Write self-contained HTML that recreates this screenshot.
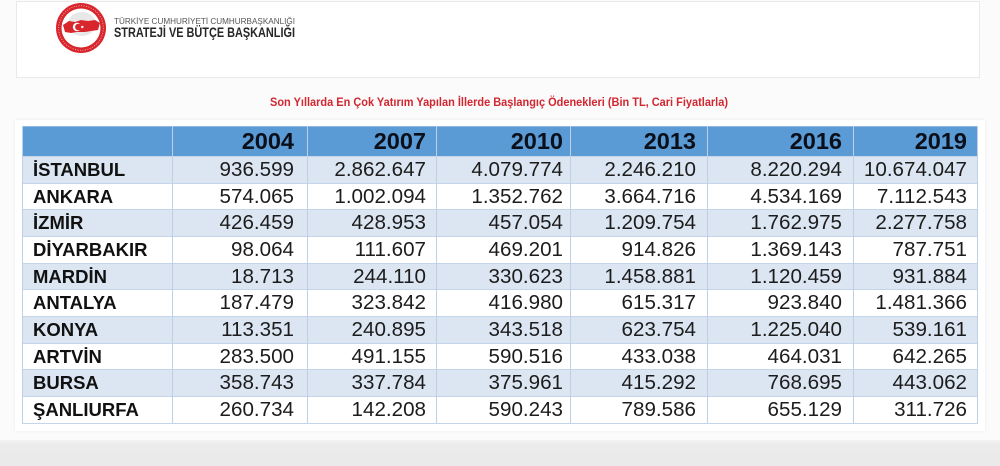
<!DOCTYPE html>
<html><head><meta charset="utf-8">
<style>
html,body{margin:0;padding:0;width:1000px;height:466px;overflow:hidden;background:#fbfbfb;font-family:"Liberation Sans",Arial,sans-serif;}
.abs{position:absolute;}
#topcard{left:16px;top:1px;width:964px;height:77px;background:#fff;border:1px solid #e9e9e9;box-sizing:border-box;}
#tblcard{left:15px;top:120px;width:970px;height:311px;background:#fff;box-shadow:0 0 3px rgba(0,0,0,0.08);}
#bottom{left:0;top:440px;width:1000px;height:26px;background:linear-gradient(#f3f3f3,#ebebeb 5px,#eaeaea);}
.hdr{left:22px;top:126px;width:956px;height:30px;background:#5b9bd5;}
.row{left:22px;width:956px;height:27px;}
.alt{background:#dce6f2;}
.vl{width:1px;top:126px;height:297px;background:#bdd0e6;}
.hl{left:22px;width:956px;height:1px;background:#c4d5ea;}
.name{left:33px;font-weight:bold;font-size:18.5px;color:#111;line-height:27px;white-space:nowrap;}
.num{font-size:20.6px;color:#1c1c1c;line-height:27px;text-align:right;white-space:nowrap;}
.yr{font-weight:bold;font-size:23.5px;color:#0a0f1a;line-height:30px;text-align:right;top:126px;}
</style></head><body>
<div class="abs" id="topcard"></div>
<svg class="abs" style="left:55px;top:2px" width="52" height="52" viewBox="0 0 52 52">
 <circle cx="26" cy="26" r="25" fill="#d8262c"/>
 <circle cx="26" cy="26" r="19.5" fill="#fff"/>
 <circle cx="26" cy="26" r="22.3" fill="none" stroke="#fff" stroke-width="0.7" stroke-dasharray="1 1.5" opacity="0.8"/>
 <ellipse cx="27" cy="22" rx="14" ry="12" fill="#e8e8e8"/>
 <path d="M8 23 L14 19 L20 20 L26 18 L33 19 L40 18 L45 21 L43 28 L36 29 L30 30 L22 30 L16 31 L10 30 Z" fill="#d8262c"/>
 <circle cx="22" cy="25" r="4.2" fill="#fff"/>
 <circle cx="23.4" cy="25" r="3.3" fill="#d8262c"/>
 <circle cx="27.3" cy="25" r="1.2" fill="#fff"/>
</svg>
<svg class="abs" style="left:0;top:0" width="400" height="45">
 <text x="114" y="24" font-family="Liberation Sans, Arial, sans-serif" font-size="8.5" fill="#555" textLength="181" lengthAdjust="spacingAndGlyphs">TÜRKİYE CUMHURİYETİ CUMHURBAŞKANLIĞI</text>
 <text x="114" y="37" font-family="Liberation Sans, Arial, sans-serif" font-weight="bold" font-size="13.5" fill="#262626" textLength="181" lengthAdjust="spacingAndGlyphs">STRATEJİ VE BÜTÇE BAŞKANLIĞI</text>
</svg>

<svg class="abs" style="left:0;top:90px" width="1000" height="22">
 <text x="270" y="16" font-family="Liberation Sans, Arial, sans-serif" font-weight="bold" font-size="12" fill="#d22630" textLength="458" lengthAdjust="spacingAndGlyphs">Son Yıllarda En Çok Yatırım Yapılan İllerde Başlangıç Ödenekleri (Bin TL, Cari Fiyatlarla)</text>
</svg>

<div class="abs" id="tblcard"></div>
<div class="abs hdr"></div>
<div class="abs row alt" style="top:156px"></div>
<div class="abs row" style="top:183px"></div>
<div class="abs row alt" style="top:209px"></div>
<div class="abs row" style="top:236px"></div>
<div class="abs row alt" style="top:263px"></div>
<div class="abs row" style="top:289px"></div>
<div class="abs row alt" style="top:316px"></div>
<div class="abs row" style="top:343px"></div>
<div class="abs row alt" style="top:369px"></div>
<div class="abs row" style="top:396px;height:27px"></div>

<div class="abs hl" style="top:156px"></div>
<div class="abs hl" style="top:183px"></div>
<div class="abs hl" style="top:209px"></div>
<div class="abs hl" style="top:236px"></div>
<div class="abs hl" style="top:263px"></div>
<div class="abs hl" style="top:289px"></div>
<div class="abs hl" style="top:316px"></div>
<div class="abs hl" style="top:343px"></div>
<div class="abs hl" style="top:369px"></div>
<div class="abs hl" style="top:396px"></div>
<div class="abs hl" style="top:423px"></div>
<div class="abs hl" style="top:126px;background:#8fb6df"></div>

<div class="abs vl" style="left:22px"></div>
<div class="abs vl" style="left:172px"></div>
<div class="abs vl" style="left:307px"></div>
<div class="abs vl" style="left:436px"></div>
<div class="abs vl" style="left:570px"></div>
<div class="abs vl" style="left:707px"></div>
<div class="abs vl" style="left:853px"></div>
<div class="abs vl" style="left:977px"></div>

<div class="abs yr" style="left:0;width:294px">2004</div>
<div class="abs yr" style="left:0;width:426px">2007</div>
<div class="abs yr" style="left:0;width:563px">2010</div>
<div class="abs yr" style="left:0;width:696px">2013</div>
<div class="abs yr" style="left:0;width:842px">2016</div>
<div class="abs yr" style="left:0;width:967px">2019</div>

<div class="abs name" style="top:156px">İSTANBUL</div>
<div class="abs num" style="top:156px;left:0;width:294px">936.599</div>
<div class="abs num" style="top:156px;left:0;width:426px">2.862.647</div>
<div class="abs num" style="top:156px;left:0;width:563px">4.079.774</div>
<div class="abs num" style="top:156px;left:0;width:696px">2.246.210</div>
<div class="abs num" style="top:156px;left:0;width:842px">8.220.294</div>
<div class="abs num" style="top:156px;left:0;width:967px">10.674.047</div>

<div class="abs name" style="top:183px">ANKARA</div>
<div class="abs num" style="top:183px;left:0;width:294px">574.065</div>
<div class="abs num" style="top:183px;left:0;width:426px">1.002.094</div>
<div class="abs num" style="top:183px;left:0;width:563px">1.352.762</div>
<div class="abs num" style="top:183px;left:0;width:696px">3.664.716</div>
<div class="abs num" style="top:183px;left:0;width:842px">4.534.169</div>
<div class="abs num" style="top:183px;left:0;width:967px">7.112.543</div>

<div class="abs name" style="top:209px">İZMİR</div>
<div class="abs num" style="top:209px;left:0;width:294px">426.459</div>
<div class="abs num" style="top:209px;left:0;width:426px">428.953</div>
<div class="abs num" style="top:209px;left:0;width:563px">457.054</div>
<div class="abs num" style="top:209px;left:0;width:696px">1.209.754</div>
<div class="abs num" style="top:209px;left:0;width:842px">1.762.975</div>
<div class="abs num" style="top:209px;left:0;width:967px">2.277.758</div>

<div class="abs name" style="top:236px">DİYARBAKIR</div>
<div class="abs num" style="top:236px;left:0;width:294px">98.064</div>
<div class="abs num" style="top:236px;left:0;width:426px">111.607</div>
<div class="abs num" style="top:236px;left:0;width:563px">469.201</div>
<div class="abs num" style="top:236px;left:0;width:696px">914.826</div>
<div class="abs num" style="top:236px;left:0;width:842px">1.369.143</div>
<div class="abs num" style="top:236px;left:0;width:967px">787.751</div>

<div class="abs name" style="top:263px">MARDİN</div>
<div class="abs num" style="top:263px;left:0;width:294px">18.713</div>
<div class="abs num" style="top:263px;left:0;width:426px">244.110</div>
<div class="abs num" style="top:263px;left:0;width:563px">330.623</div>
<div class="abs num" style="top:263px;left:0;width:696px">1.458.881</div>
<div class="abs num" style="top:263px;left:0;width:842px">1.120.459</div>
<div class="abs num" style="top:263px;left:0;width:967px">931.884</div>

<div class="abs name" style="top:289px">ANTALYA</div>
<div class="abs num" style="top:289px;left:0;width:294px">187.479</div>
<div class="abs num" style="top:289px;left:0;width:426px">323.842</div>
<div class="abs num" style="top:289px;left:0;width:563px">416.980</div>
<div class="abs num" style="top:289px;left:0;width:696px">615.317</div>
<div class="abs num" style="top:289px;left:0;width:842px">923.840</div>
<div class="abs num" style="top:289px;left:0;width:967px">1.481.366</div>

<div class="abs name" style="top:316px">KONYA</div>
<div class="abs num" style="top:316px;left:0;width:294px">113.351</div>
<div class="abs num" style="top:316px;left:0;width:426px">240.895</div>
<div class="abs num" style="top:316px;left:0;width:563px">343.518</div>
<div class="abs num" style="top:316px;left:0;width:696px">623.754</div>
<div class="abs num" style="top:316px;left:0;width:842px">1.225.040</div>
<div class="abs num" style="top:316px;left:0;width:967px">539.161</div>

<div class="abs name" style="top:343px">ARTVİN</div>
<div class="abs num" style="top:343px;left:0;width:294px">283.500</div>
<div class="abs num" style="top:343px;left:0;width:426px">491.155</div>
<div class="abs num" style="top:343px;left:0;width:563px">590.516</div>
<div class="abs num" style="top:343px;left:0;width:696px">433.038</div>
<div class="abs num" style="top:343px;left:0;width:842px">464.031</div>
<div class="abs num" style="top:343px;left:0;width:967px">642.265</div>

<div class="abs name" style="top:369px">BURSA</div>
<div class="abs num" style="top:369px;left:0;width:294px">358.743</div>
<div class="abs num" style="top:369px;left:0;width:426px">337.784</div>
<div class="abs num" style="top:369px;left:0;width:563px">375.961</div>
<div class="abs num" style="top:369px;left:0;width:696px">415.292</div>
<div class="abs num" style="top:369px;left:0;width:842px">768.695</div>
<div class="abs num" style="top:369px;left:0;width:967px">443.062</div>

<div class="abs name" style="top:396px">ŞANLIURFA</div>
<div class="abs num" style="top:396px;left:0;width:294px">260.734</div>
<div class="abs num" style="top:396px;left:0;width:426px">142.208</div>
<div class="abs num" style="top:396px;left:0;width:563px">590.243</div>
<div class="abs num" style="top:396px;left:0;width:696px">789.586</div>
<div class="abs num" style="top:396px;left:0;width:842px">655.129</div>
<div class="abs num" style="top:396px;left:0;width:967px">311.726</div>

<div class="abs" id="bottom"></div>
</body></html>
